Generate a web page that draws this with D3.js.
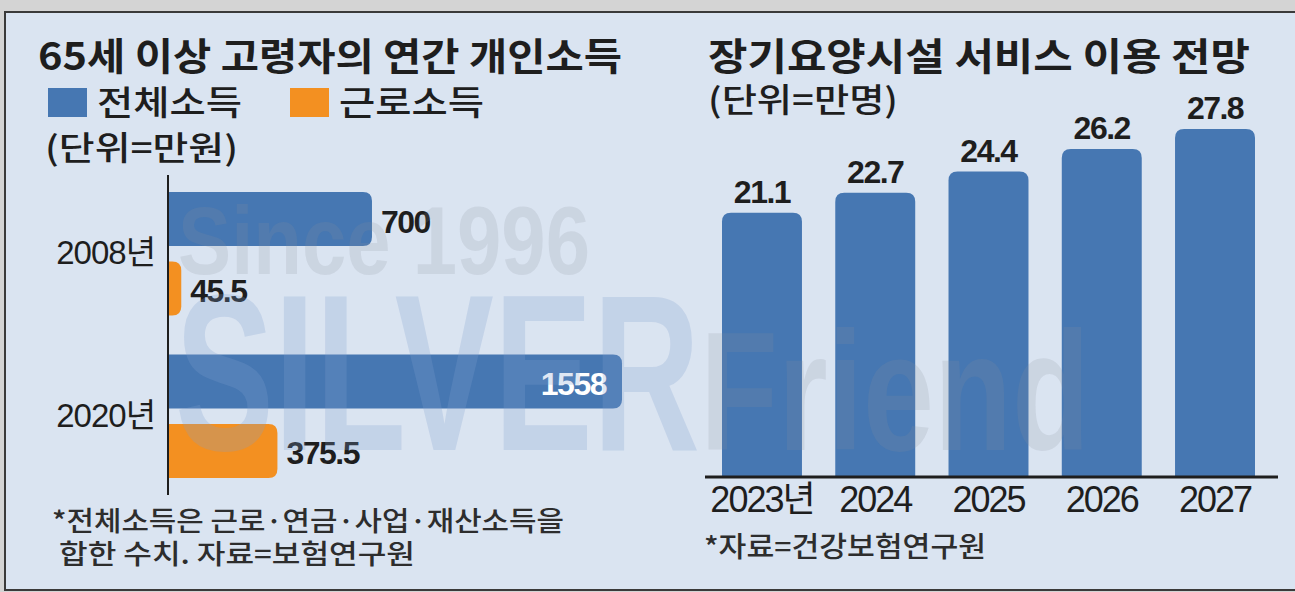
<!DOCTYPE html>
<html>
<head>
<meta charset="utf-8">
<script src="https://cdn.jsdelivr.net/npm/d3@7"></script>
<style>
  html, body { margin: 0; padding: 0; background: #d4d4d4; }
  svg { display: block; }
  .kr { font-family: "Noto Sans CJK KR", sans-serif; }
  .num { font-family: "Liberation Sans", Arial, "Noto Sans CJK KR", sans-serif; }
</style>
</head>
<body>
<svg id="chart" width="1295" height="592"></svg>
<script>
// left chart: 65세 이상 고령자의 연간 개인소득 (만원)
var incomeYears = ['2008년', '2020년'];
var incomeSeries = ['전체소득', '근로소득'];
var totalIncome = [700, 1558];
var laborIncome = [45.5, 375.5];
var incomeLabels = ['700', '1558', '45.5', '375.5'];

// right chart: 장기요양시설 서비스 이용 전망 (만명)
var careYears = ['2023년', '2024', '2025', '2026', '2027'];
var careUsers = [21.1, 22.7, 24.4, 26.2, 27.8];

var BLUE = '#4677b2', ORANGE = '#f39021', INK = '#1e1e1e';

var svg = d3.select('#chart');

// stretch a korean text to the width it has in the print version
function fit(sel, w) {
  return sel.attr('textLength', w).attr('lengthAdjust', 'spacingAndGlyphs');
}

// frame
svg.append('rect')
  .attr('x', 5).attr('y', 12).attr('width', 1300).attr('height', 578)
  .attr('fill', '#dae4f1').attr('stroke', '#3a3a3a').attr('stroke-width', 2);

// bar path with rounded far end
function hBar(x0, x1, y, h, r) {
  r = Math.min(r, (x1 - x0), h / 2);
  return `M${x0},${y} L${x1 - r},${y} Q${x1},${y} ${x1},${y + r} L${x1},${y + h - r} Q${x1},${y + h} ${x1 - r},${y + h} L${x0},${y + h} Z`;
}
function vBar(x, y0, y1, w, r) {
  r = Math.min(r, (y0 - y1), w / 2);
  return `M${x},${y0} L${x},${y1 + r} Q${x},${y1} ${x + r},${y1} L${x + w - r},${y1} Q${x + w},${y1} ${x + w},${y1 + r} L${x + w},${y0} Z`;
}

// ---------- left chart ----------
var left = svg.append('g');

fit(left.append('text').attr('class', 'kr')
  .attr('x', 38).attr('y', 70)
  .attr('font-size', 38).attr('font-weight', 700).attr('fill', INK)
  .text('65세 이상 고령자의 연간 개인소득'), 584);

var legend = left.selectAll('.legend').data(incomeSeries).enter().append('g')
  .attr('class', 'legend')
  .attr('transform', (d, i) => `translate(${48 + i * 242},88)`);
legend.append('rect')
  .attr('width', 39).attr('height', 29)
  .attr('fill', (d, i) => i ? ORANGE : BLUE);
fit(legend.append('text').attr('class', 'kr')
  .attr('x', 49).attr('y', 27)
  .attr('font-size', 34).attr('font-weight', 500).attr('fill', INK)
  .text(d => d), 145);

fit(left.append('text').attr('class', 'kr')
  .attr('x', 45).attr('y', 160)
  .attr('font-size', 33).attr('font-weight', 500).attr('fill', INK)
  .text('(단위=만원)'), 193);

var xInc = d3.scaleLinear().domain([0, d3.max(totalIncome)]).range([168, 622]);
var yInc = d3.scaleBand().domain(incomeYears).range([192, 478]).paddingInner(0.24);
var ySer = d3.scaleBand().domain(incomeSeries).range([0, yInc.bandwidth()]).paddingInner(0.22);

var incomeRows = [];
incomeYears.forEach(function(yr, i) {
  incomeRows.push({year: yr, series: incomeSeries[0], value: totalIncome[i], label: incomeLabels[i], color: BLUE});
  incomeRows.push({year: yr, series: incomeSeries[1], value: laborIncome[i], label: incomeLabels[i + 2], color: ORANGE});
});

left.selectAll('.ibar').data(incomeRows).enter().append('path')
  .attr('class', 'ibar')
  .attr('fill', d => d.color)
  .attr('d', d => hBar(xInc(0), xInc(d.value), yInc(d.year) + ySer(d.series), ySer.bandwidth(), 9));

left.selectAll('.ilabel').data(incomeRows).enter().append('text')
  .attr('class', 'ilabel num')
  .attr('font-size', 32).attr('font-weight', 700).attr('letter-spacing', -1.5)
  .attr('dy', '0.36em')
  .attr('y', d => yInc(d.year) + ySer(d.series) + ySer.bandwidth() / 2 + 2)
  .each(function(d) {
    var inside = d.value === d3.max(totalIncome);
    d3.select(this)
      .attr('x', inside ? xInc(d.value) - 16 : xInc(d.value) + 9)
      .attr('text-anchor', inside ? 'end' : 'start')
      .attr('fill', inside ? '#fff' : INK);
  })
  .text(d => d.label);

var yAxis = left.append('g')
  .attr('transform', `translate(${xInc(0)},0)`)
  .call(d3.axisLeft(yInc).tickSize(0).tickPadding(13));
yAxis.select('.domain').remove();
yAxis.selectAll('text')
  .attr('font-size', 33).attr('fill', INK).attr('letter-spacing', -1)
  .style('font-family', '"Liberation Sans", "Noto Sans CJK KR", sans-serif');
left.append('line')
  .attr('x1', xInc(0)).attr('x2', xInc(0))
  .attr('y1', yInc.range()[0] - 17).attr('y2', yInc.range()[1] + 17)
  .attr('stroke', INK).attr('stroke-width', 2);

var note = left.append('text').attr('class', 'kr')
  .attr('font-size', 27).attr('font-weight', 500).attr('fill', '#2d2d2d');
fit(note.append('tspan').attr('x', 52).attr('y', 531).text('*전체소득은 근로·연금·사업·재산소득을'), 512);
fit(note.append('tspan').attr('x', 59).attr('y', 564).text('합한 수치. 자료=보험연구원'), 356);

// ---------- right chart ----------
var right = svg.append('g');

fit(right.append('text').attr('class', 'kr')
  .attr('x', 708).attr('y', 70)
  .attr('font-size', 38).attr('font-weight', 700).attr('fill', INK)
  .text('장기요양시설 서비스 이용 전망'), 542);
fit(right.append('text').attr('class', 'kr')
  .attr('x', 708).attr('y', 112)
  .attr('font-size', 33).attr('font-weight', 500).attr('fill', INK)
  .text('(단위=만명)'), 190);

var xCare = d3.scaleBand().domain(careYears).range([722, 1255]).paddingInner(0.294);
var yCare = d3.scaleLinear().domain([0, d3.max(careUsers)]).range([477, 129]);

right.selectAll('.cbar').data(careUsers).enter().append('path')
  .attr('class', 'cbar')
  .attr('fill', BLUE)
  .attr('d', (d, i) => vBar(xCare(careYears[i]), yCare(0), yCare(d), xCare.bandwidth(), 9));

right.selectAll('.clabel').data(careUsers).enter().append('text')
  .attr('class', 'clabel num')
  .attr('x', (d, i) => xCare(careYears[i]) + xCare.bandwidth() / 2)
  .attr('y', d => yCare(d) - 10)
  .attr('text-anchor', 'middle')
  .attr('font-size', 32).attr('font-weight', 700).attr('fill', INK).attr('letter-spacing', -1.5)
  .text(d => d.toFixed(1));

var xAxis = right.append('g')
  .attr('transform', `translate(0,${yCare(0)})`)
  .call(d3.axisBottom(xCare).tickSize(0).tickPadding(8));
xAxis.select('.domain').remove();
xAxis.selectAll('text')
  .attr('font-size', 36).attr('fill', INK).attr('letter-spacing', -2)
  .attr('dy', '0.75em')
  .style('font-family', '"Liberation Sans", "Noto Sans CJK KR", sans-serif');
right.append('line')
  .attr('x1', 705).attr('x2', 1278)
  .attr('y1', yCare(0)).attr('y2', yCare(0))
  .attr('stroke', INK).attr('stroke-width', 3);

fit(right.append('text').attr('class', 'kr')
  .attr('x', 704).attr('y', 557)
  .attr('font-size', 28).attr('font-weight', 500).attr('fill', '#2d2d2d')
  .text('*자료=건강보험연구원'), 282);

// ---------- watermark ----------
var wm = svg.append('g').attr('class', 'num').attr('font-weight', 700).attr('pointer-events', 'none');
wm.append('text').attr('x', 178).attr('y', 274)
  .attr('font-size', 96).attr('fill', '#8a8f99').attr('fill-opacity', 0.18)
  .attr('textLength', 412).attr('lengthAdjust', 'spacingAndGlyphs')
  .text('Since 1996');
wm.append('text').attr('x', 175).attr('y', 450)
  .attr('font-size', 222).attr('fill', '#7f9fcf').attr('fill-opacity', 0.25)
  .attr('textLength', 525).attr('lengthAdjust', 'spacingAndGlyphs')
  .text('SILVER');
wm.append('text').attr('x', 700).attr('y', 450)
  .attr('font-size', 168).attr('fill', '#8a8f99').attr('fill-opacity', 0.18)
  .attr('textLength', 390).attr('lengthAdjust', 'spacingAndGlyphs')
  .text('Friend');
</script>
</body>
</html>
